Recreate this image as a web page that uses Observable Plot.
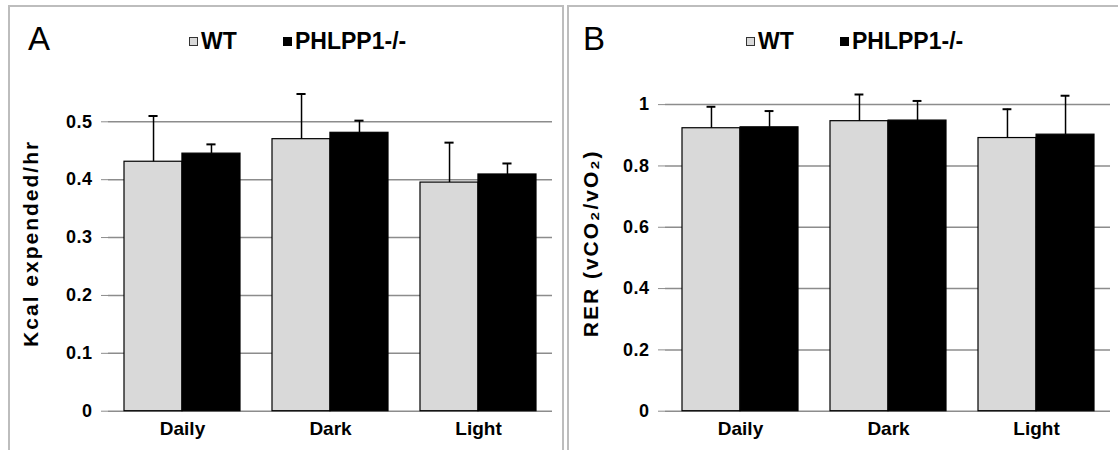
<!DOCTYPE html>
<html><head><meta charset="utf-8">
<script src="https://cdn.jsdelivr.net/npm/d3@7"></script>
<script src="https://cdn.jsdelivr.net/npm/@observablehq/plot@0.6"></script>
<style>
html,body{margin:0;padding:0;background:#fff;}
#root{position:relative;width:1118px;height:450px;overflow:hidden;font-family:"Liberation Sans",Arial,sans-serif;}
.panel{position:absolute;top:5px;height:480px;border:2px solid #bdbdbd;box-sizing:border-box;}
.letter{position:absolute;font-size:33px;line-height:33px;color:#000;}
.lg{position:absolute;font-size:23px;line-height:23px;font-weight:bold;color:#000;white-space:nowrap;}
.sw{position:absolute;width:9px;height:9px;box-sizing:border-box;}
.chart{position:absolute;top:60px;}
.chart svg{overflow:visible;}
.chart [aria-label="y-axis tick label"] text{font-size:18px;font-weight:bold;letter-spacing:0.5px;fill:#000;}
.chart [aria-label="x-axis tick label"] text{font-size:19px;font-weight:bold;fill:#000;}
.chart [aria-label="text"] text{letter-spacing:2px;}
</style>
</head><body>
<div id="root"></div>
<script>
// ---- data ----
const categories = ["Daily", "Dark", "Light"];
const series = ["WT", "PHLPP1-/-"];
const seriesColors = ["#d9d9d9", "#000000"];

// Panel A: Kcal expended/hr
const kcalWT = [0.431, 0.470, 0.395];
const kcalWTErr = [0.079, 0.078, 0.069];
const kcalKO = [0.445, 0.481, 0.409];
const kcalKOErr = [0.016, 0.021, 0.019];
const kcalTicks = [0, 0.1, 0.2, 0.3, 0.4, 0.5];

// Panel B: RER
const rerWT = [0.923, 0.946, 0.891];
const rerWTErr = [0.070, 0.087, 0.094];
const rerKO = [0.926, 0.948, 0.902];
const rerKOErr = [0.053, 0.064, 0.127];
const rerTicks = [0, 0.2, 0.4, 0.6, 0.8, 1];

const PAD = 0.217;
const GRID = "#8c8c8c";
const root = document.getElementById("root");

function el(tag, cls, styles, text) {
  const e = document.createElement(tag);
  if (cls) e.className = cls;
  Object.assign(e.style, styles || {});
  if (text != null) e.textContent = text;
  root.appendChild(e);
  return e;
}

function panel(o) {
  el("div", "panel", {left: o.boxLeft + "px", width: o.boxWidth + "px"});
  el("div", "letter", {left: o.letterLeft + "px", top: "22px"}, o.letter);
  // legend
  const lgX = [o.axisX + 81, o.axisX + 175];
  series.forEach((s, i) => {
    el("div", "sw", {left: lgX[i] + "px", top: "37px", background: seriesColors[i],
      border: i === 0 ? "1px solid #333" : "none"});
    el("div", "lg", {left: (lgX[i] + 12) + "px", top: "30px"}, s);
  });

  const data = categories.map((c, i) => ({
    cat: c, wt: o.wt[i], wtHi: o.wt[i] + o.wtErr[i], ko: o.ko[i], koHi: o.ko[i] + o.koErr[i]
  }));
  const {width, height, mL, mR, mT, mB} = o;
  const inner = width - mL - mR;
  const step = inner / categories.length;
  const bw = step * (1 - PAD);
  const q = bw / 4;
  const cap = 4.5;
  const svg = Plot.plot({
    width, height, marginLeft: mL, marginRight: mR, marginTop: mT, marginBottom: mB,
    style: {background: "transparent", fontFamily: "'Liberation Sans', Arial, sans-serif", color: "#000"},
    x: {domain: categories, paddingInner: PAD, paddingOuter: PAD / 2, label: null},
    y: {domain: [0, o.yMax], label: null},
    marks: [
      Plot.ruleY(o.ticks, {stroke: GRID, strokeWidth: 1.5}),
      Plot.barY(data, {x: "cat", y: "wt", fill: seriesColors[0], stroke: "#000", strokeWidth: 1.2, insetRight: bw / 2}),
      Plot.barY(data, {x: "cat", y: "ko", fill: seriesColors[1], stroke: "#000", strokeWidth: 1.2, insetLeft: bw / 2}),
      Plot.ruleX(data, {x: "cat", y1: "wt", y2: "wtHi", dx: -q, stroke: "#000", strokeWidth: 1.5}),
      Plot.ruleX(data, {x: "cat", y1: "ko", y2: "koHi", dx: q, stroke: "#000", strokeWidth: 1.5}),
      Plot.tickY(data, {x: "cat", y: "wtHi", insetLeft: q - cap, insetRight: 3 * q - cap, stroke: "#000", strokeWidth: 2}),
      Plot.tickY(data, {x: "cat", y: "koHi", insetLeft: 3 * q - cap, insetRight: q - cap, stroke: "#000", strokeWidth: 2}),
      Plot.axisY({ticks: o.ticks, tickFormat: d => String(d), tickSize: 7, tickPadding: 9, stroke: GRID,
        label: null, line: true}),
      Plot.axisX({tickSize: 0, tickPadding: 10, label: null}),
      Plot.text([o.label], {frameAnchor: "left", rotate: -90, dx: o.labelDx, lineAnchor: "middle",
        textAnchor: "middle", fontSize: 21, fontWeight: "bold", fill: "#000"})
    ]
  });
  const holder = el("div", "chart", {left: o.svgLeft + "px"});
  holder.appendChild(svg);
}

panel({
  letter: "A", boxLeft: 8, boxWidth: 556, letterLeft: 28, axisX: 108,
  svgLeft: 9, width: 554, height: 390, mL: 99, mR: 11, mT: 15, mB: 39.3,
  yMax: 0.58, ticks: kcalTicks, label: "Kcal expended/hr", labelDx: -77,
  wt: kcalWT, wtErr: kcalWTErr, ko: kcalKO, koErr: kcalKOErr
});
panel({
  letter: "B", boxLeft: 567, boxWidth: 600, letterLeft: 583, axisX: 665,
  svgLeft: 568, width: 550, height: 390, mL: 97, mR: 8, mT: 15, mB: 39.3,
  yMax: 1.095, ticks: rerTicks, label: "RER (vCO₂/vO₂)", labelDx: -74,
  wt: rerWT, wtErr: rerWTErr, ko: rerKO, koErr: rerKOErr
});
</script>
</body></html>
